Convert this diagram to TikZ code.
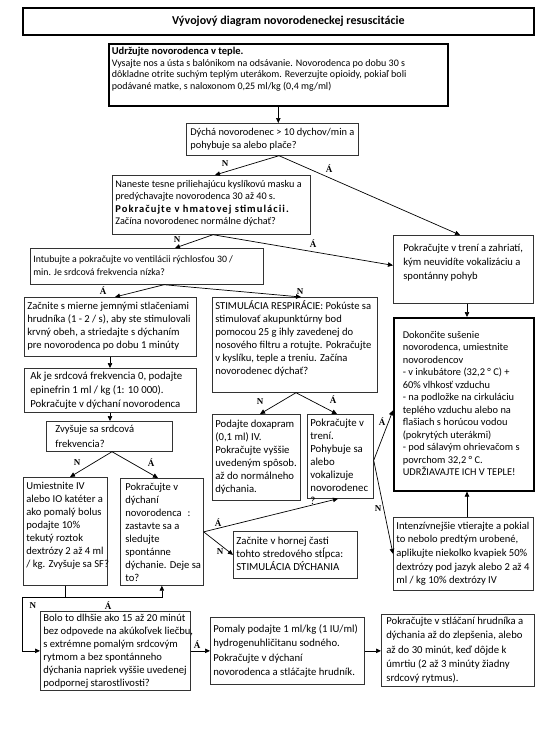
\documentclass[tikz,border=0pt]{standalone}
\usepackage{fontspec}
\setmainfont{Carlito}
\newfontfamily\lblfont{Liberation Serif}
\usetikzlibrary{arrows.meta}
% box text: [vertical pos]{width}{height}{lines}
\newcommand{\bxt}[4][c]{\parbox[t][#3][#1]{#2}{\begin{tabular}[t]{@{}l@{}}#4\end{tabular}}}
\newcommand{\fs}[2]{\fontsize{#1}{#2}\selectfont}

\begin{document}
\begin{tikzpicture}[x=1pt, y=-1pt,
    box/.style={draw=black!80, line width=0.7pt, inner sep=3pt, anchor=north west, font=\fs{10.6}{13}},
    bbox/.style={box, draw=black, line width=1.6pt},
    arr/.style={-{Triangle[length=5pt,width=4.5pt]}, line width=0.7pt},
    yn/.style={font=\lblfont\bfseries\fs{9}{10}, inner sep=0pt}]
    \useasboundingbox (0,0) rectangle (552,732);

    % Title
    \node[bbox, inner sep=0pt, minimum width=511pt, minimum height=27pt, font=\fs{12}{13}\bfseries] (title) at (22,7) {\hspace*{20pt}Vývojový diagram novorodeneckej resuscitácie};

    % Top of the chart
    \node[bbox, font=\fs{10}{11.5}] (warm) at (108,43) {\bxt[t]{333pt}{56pt}{{\fs{10.5}{11.5}\bfseries Udržujte novorodenca v teple.}\\ Vysajte nos a ústa s balónikom na odsávanie. Novorodenca po dobu 30 s\\ dôkladne otrite suchým teplým uterákom. Reverzujte opioidy, pokiaľ boli\\ podávané matke, s naloxonom 0,25 ml/kg (0,4 mg/ml)}};
    \node[box, inner xsep=4pt, font=\fs{10.4}{13}] (breath) at (186,123) {\bxt[t]{164pt}{26pt}{Dýchá novorodenec > 10 dychov/min a\\ pohybuje sa alebo plače?}};
    \node[box, font=\fs{10.2}{12.5}] (mask) at (112,175) {\bxt[t]{192pt}{53pt}{Naneste tesne priliehajúcu kyslíkovú masku a\\ predýchavajte novorodenca 30 až 40 s.\\ {\fs{10.5}{12.5}\bfseries\addfontfeature{LetterSpace=10}Pokračujte v hmatovej stimulácii.}\\ Začína novorodenec normálne dýchať?}};
    \node[box, inner xsep=10pt, inner ysep=6pt, font=\fs{10.6}{14}] (rub) at (393,235) {\bxt[t]{120pt}{56pt}{Pokračujte v trení a zahriatí,\\ kým neuvidíte vokalizáciu a\\ spontánny pohyb}};
    \node[box, font=\fs{9.8}{13}] (intub) at (30,248) {\bxt{227pt}{30pt}{Intubujte a pokračujte vo ventilácii rýchlosťou 30 /\\ min. Je srdcová frekvencia nízka?}};

    % Left column
    \node[box] (comp) at (24,297) {\bxt{166pt}{53pt}{Začnite s mierne jemnými stlačeniami\\ hrudníka (1 - 2 / s), aby ste stimulovali\\ krvný obeh, a striedajte s dýchaním\\ pre novorodenca po dobu 1 minúty}};
    \node[box, inner xsep=6pt, font=\fs{10.8}{14}] (epi) at (24,368) {\bxt{160pt}{38pt}{Ak je srdcová frekvencia 0, podajte\\ epinefrin 1 ml / kg (1: 10 000).\\ Pokračujte v dýchaní novorodenca}};
    \node[box, inner xsep=9pt, inner ysep=1pt, font=\fs{10.6}{15}] (hr) at (46,421) {\bxt[t]{108pt}{28pt}{Zvyšuje sa srdcová\\ frekvencia?}};
    \node[box] (iv) at (23,477) {\bxt[t]{78pt}{102pt}{Umiestnite IV\\ alebo IO katéter a\\ ako pomalý bolus\\ podajte 10\%\\ tekutý roztok\\ dextrózy 2 až 4 ml\\ / kg. Zvyšuje sa SF?}};
    \node[box, inner xsep=5pt] (cont) at (120,478) {\bxt[t]{73pt}{101pt}{Pokračujte v\\ dýchaní\\ novorodenca\hspace{6pt}:\\ zastavte sa a\\ sledujte\\ spontánne\\ dýchanie. Deje sa\\ to?}};

    % Middle column
    \node[box] (stim) at (212,297) {\bxt[t]{159pt}{89pt}{STIMULÁCIA RESPIRÁCIE: Pokúste sa\\ stimulovať akupunktúrny bod\\ pomocou 25 g ihly zavedenej do\\ nosového filtru a rotujte. Pokračujte\\ v kyslíku, teple a treniu. Začína\\ novorodenec dýchať?}};
    \node[box, font=\fs{10.7}{13}] (dox) at (212,414) {\bxt{82pt}{80pt}{Podajte doxapram\\ (0,1 ml) IV.\\ Pokračujte vyššie\\ uvedeným spôsob.\\ až do normálneho\\ dýchania.}};
    \node[box, font=\fs{10.8}{13}] (trB) at (307,414) {\bxt[t]{60pt}{78pt}{Pokračujte v\\ trení.\\ Pohybuje sa\\ alebo\\ vokalizuje\\ novorodenec\\ ?}};
    \node[box, font=\fs{10.8}{13}] (zac) at (233,531) {\bxt{118pt}{41pt}{Začnite v hornej časti\\ tohto stredového stĺpca:\\ STIMULÁCIA DÝCHANIA}};

    % Right column
    \node[bbox, inner xsep=9pt, font=\fs{10.4}{12.5}] (dok) at (393,317) {\bxt{122pt}{167pt}{Dokončite sušenie\\ novorodenca, umiestnite\\ novorodencov\\ - v inkubátore (32,2 ° C) +\\ 60\% vlhkosť vzduchu\\ - na podložke na cirkuláciu\\ teplého vzduchu alebo na\\ flašiach s horúcou vodou\\ (pokrytých uterákmi)\\ - pod sálavým ohrievačom s\\ povrchom 32,2 ° C.\\ UDRŽIAVAJTE ICH V TEPLE!}};
    \node[box, font=\fs{10.6}{13.7}] (intz) at (393,517) {\bxt{134pt}{67pt}{Intenzívnejšie vtierajte a pokial\\ to nebolo predtým urobené,\\ aplikujte niekolko kvapiek 50\%\\ dextrózy pod jazyk alebo 2 až 4\\ ml / kg 10\% dextrózy IV}};

    % Bottom row
    \node[box, inner ysep=1pt, font=\fs{10.6}{13}] (bolo) at (40,611) {\bxt[t]{144pt}{77pt}{Bolo to dlhšie ako 15 až 20 minút\\ bez odpovede na akúkoľvek liečbu,\\ s extrémne pomalým srdcovým\\ rytmom a bez spontánneho\\ dýchania napriek vyššie uvedenej\\ podpornej starostlivosti?}};
    \node[box, font=\fs{10.7}{14.5}] (bic) at (210,617) {\bxt{148pt}{61pt}{Pomaly podajte 1 ml/kg (1 IU/ml)\\ hydrogenuhličitanu sodného.\\ Pokračujte v dýchaní\\ novorodenca a stláčajte hrudník.}};
    \node[box, inner xsep=5pt, font=\fs{10.7}{14.3}] (fin) at (381,614) {\bxt{143pt}{66pt}{Pokračujte v stláčaní hrudníka a\\ dýchania až do zlepšenia, alebo\\ až do 30 minút, keď dôjde k\\ úmrtiu (2 až 3 minúty žiadny\\ srdcový rytmus).}};

    % connectors
    \draw[arr] (warm.south) -- (warm.south |- breath.north);
    \coordinate (q1) at ([xshift=93pt]breath.south west);
    \draw[arr] (q1) -- ([xshift=103pt]mask.north west);
    \draw[arr] (q1) -- ([xshift=67pt]rub.north west);
    \coordinate (q2) at ([xshift=101pt]mask.south west);
    \draw[arr] (q2) -- ([xshift=145pt]intub.north west);
    \draw[arr] (q2) -- ([yshift=4pt]rub.west);
    \coordinate (q3) at ([xshift=134pt]intub.south west);
    \draw[arr] (q3) -- ([xshift=91pt]comp.north west);
    \draw[arr] (q3) -- ([xshift=89pt]stim.north west);
    \draw[arr] ([xshift=86pt]comp.south west) -- ([xshift=86pt]epi.north west);
    \draw[arr] ([xshift=86pt]epi.south west) -- ([xshift=64pt]hr.north west);
    \coordinate (q4) at ([xshift=66pt]hr.south west);
    \draw[arr] (q4) -- ([xshift=47pt]iv.north west);
    \draw[arr] (q4) -- ([xshift=38pt]cont.north west);
    \draw[arr] ([xshift=74pt]rub.south west) -- ([xshift=74pt]dok.north west);
    \draw[arr] ([xshift=74pt]intz.north west) -- ([xshift=74pt]dok.south west);
    \coordinate (q5) at ([xshift=84pt]stim.south west);
    \draw[arr] (q5) -- ([xshift=48pt]dox.north west);
    \draw[arr] (q5) -- ([xshift=30pt]trB.north west);
    \coordinate (q6) at ([yshift=-4pt]trB.east);
    \draw[arr] (q6) -- ([yshift=-6pt]dok.west);
    \draw[arr] (q6) -- (intz.west);
    \draw[arr] (cont.east) -- ([xshift=31pt]trB.south west);
    \draw[arr] (cont.east) -- (zac.west);
    % loop back at the bottom
    \coordinate (jn) at ([yshift=-12pt]iv.south);
    \coordinate (bl) at ([xshift=-18pt]bolo.west);
    \coordinate (jl) at (bl |- jn);
    \coordinate (jr) at (cont.south |- jn);
    \draw[line width=0.7pt] (iv.south) -- (jn);
    \draw[line width=0.7pt] (jl) -- (jr);
    \draw[arr] (jr) -- (cont.south);
    \draw[arr] (jl) |- (bolo.west);
    \draw[arr] (bolo.east) -- (bic.west);
    \draw[arr] (bic.east) -- (bic.east -| fin.west);

    % yes / no labels
    \node[yn] (n1) at (225,164) {N};
    \node[yn] (a1) at (329,169) {Á};
    \node[yn] (n2) at (177,240) {N};
    \node[yn] (a2) at (313,244) {Á};
    \node[yn] (a3) at (103,291) {Á};
    \node[yn] (n3) at (300,292) {N};
    \node[yn] (n4) at (77,463) {N};
    \node[yn] (a4) at (151,463) {Á};
    \node[yn] (n5) at (260,402) {N};
    \node[yn] (a5) at (333,400) {Á};
    \node[yn] (a6) at (382,422) {Á};
    \node[yn] (n6) at (378,509) {N};
    \node[yn] (a7) at (218,523) {Á};
    \node[yn] (n7) at (220,552) {N};
    \node[yn] (n8) at (33,606) {N};
    \node[yn] (a8) at (108,606) {Á};
    \node[yn] (a9) at (197,645) {Á};
\end{tikzpicture}
\end{document}
